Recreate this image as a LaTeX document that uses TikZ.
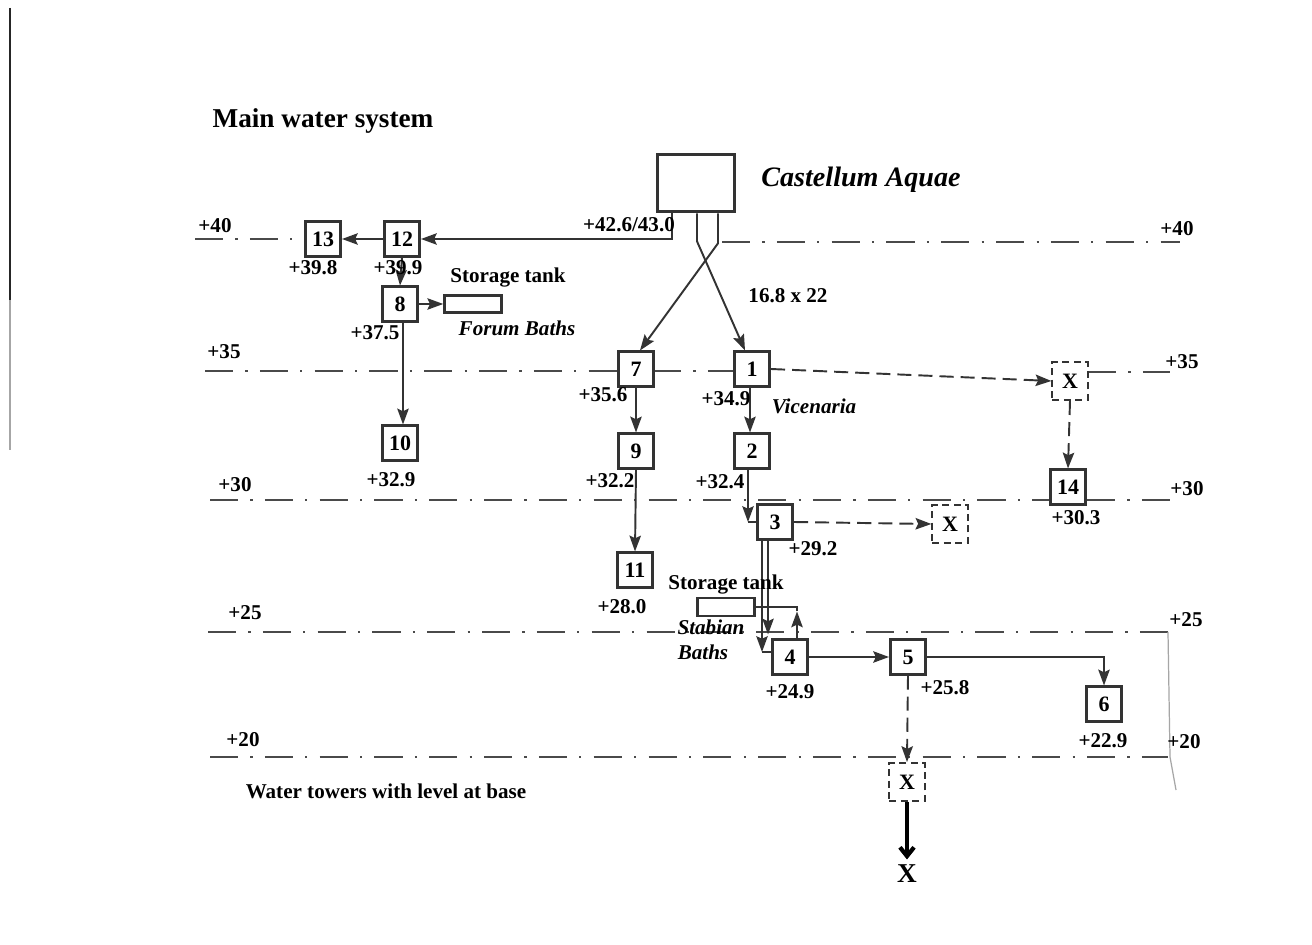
\documentclass[tikz,border=0pt]{standalone}
\usepackage{fontspec}
\setmainfont{Liberation Serif}
\usetikzlibrary{arrows.meta,calc}
\definecolor{ink}{HTML}{333333}
\definecolor{lev}{HTML}{4A4A4A}
\begin{document}
\begin{tikzpicture}[x=0.02cm,y=-0.02cm,
  numbox/.style={draw=ink, line width=1.6pt, fill=white, minimum width=20pt, minimum height=19.5pt, inner sep=0pt, font=\fontsize{12.5}{14}\selectfont\bfseries},
  xbox/.style={draw=ink, line width=1.2pt, dash pattern=on 4pt off 2.5pt, fill=white, minimum width=20pt, minimum height=21.5pt, inner sep=0pt, font=\fontsize{12.5}{14}\selectfont\bfseries},
  tankbox/.style={draw=ink, line width=1.4pt, fill=white, minimum width=32.5pt, minimum height=9.5pt, inner sep=0pt},
  castbox/.style={draw=ink, line width=2pt, fill=white, minimum width=44pt, minimum height=32.5pt, inner sep=0pt},
  lbl/.style={font=\fontsize{12}{14}\selectfont\bfseries, inner sep=0pt},
  ilbl/.style={font=\fontsize{12}{14}\selectfont\bfseries\itshape, inner sep=0pt},
  flow/.style={draw=ink, line width=1.1pt, -{Stealth[length=9pt,width=6.5pt,inset=1.5pt]}},
  plain/.style={draw=ink, line width=1.1pt},
  dflow/.style={draw=ink, line width=1.1pt, dash pattern=on 8pt off 4pt, -{Stealth[length=9pt,width=6.5pt,inset=1.5pt]}},
  level/.style={draw=lev, line width=0.8pt, dash pattern=on 16pt off 7pt on 1.2pt off 7pt}
]
\useasboundingbox (0,0) rectangle (1312,945);
\fill[white] (0,0) rectangle (1312,945);

% scan edge line
\draw[line width=1.3pt, black!85] (10,8) -- (10,300);
\draw[line width=1pt, black!35] (10,300) -- (10,450);

% level lines
\draw[level] (195,239) -- (306,239);
\draw[level] (722,242) -- (1180,242);
\draw[level] (205,371) -- (620,371);
\draw[level] (653,371) -- (733,371);
\draw[level] (1088,372) -- (1170,372);
\draw[level] (210,500) -- (1180,500);
\draw[level] (208,632) -- (1168,632);
\draw[level] (210,757) -- (1168,757);
\draw[line width=0.7pt, black!35] (1168,632) -- (1170,757) -- (1176,790);

% titles
\node[font=\fontsize{15.5}{18}\selectfont\bfseries, inner sep=0pt] (title) at (323,121) {Main water system};
\node[font=\fontsize{16}{19}\selectfont\bfseries\itshape, inner sep=0pt] (castlbl) at (861,180) {Castellum Aquae};

% nodes
\node[castbox] (ca) at (696,183) {};
\node[numbox] (n13) at (323,239) {13};
\node[numbox] (n12) at (402,239) {12};
\node[numbox] (n8) at (400,304) {8};
\node[tankbox] (tf) at (473,304) {};
\node[numbox] (n10) at (400,443) {10};
\node[numbox] (n7) at (636,369) {7};
\node[numbox] (n1) at (752,369) {1};
\node[numbox] (n9) at (636,451) {9};
\node[numbox] (n2) at (752,451) {2};
\node[numbox] (n3) at (775,522) {3};
\node[xbox] (xc) at (950,524) {X};
\node[xbox] (xa) at (1070,381) {X};
\node[numbox] (n14) at (1068,487) {14};
\node[numbox] (n11) at (635,570) {11};
\node[tankbox, minimum height=10pt] (ts) at (726,607) {};
\node[numbox] (n4) at (790,657) {4};
\node[numbox] (n5) at (908,657) {5};
\node[numbox] (n6) at (1104,704) {6};
\node[xbox] (xb) at (907,782) {X};
\node[font=\fontsize{15.5}{18}\selectfont\bfseries, inner sep=0pt] (xend) at (907,874) {X};

% connectors from castellum
\draw[flow] ($(ca.south)+(-24,0)$) |- (n12.east);
\draw[flow] ($(ca.south)+(1,0)$) -- ++(0,28) -- ($(n1.north)+(-7,0)$);
\draw[flow] ($(ca.south)+(22,0)$) -- ++(0,30) -- ($(n7.north)+(4,0)$);

% left branch
\draw[flow] (n12.west) -- (n13.east);
\draw[flow] (n12.south) -- (n8.north);
\draw[flow] (n8.east) -- (tf.west);
\draw[flow] ($(n8.south)+(3,0)$) -- ($(n10.north)+(3,0)$);

% middle branches
\draw[flow] (n7.south) -- (n9.north);
\draw[flow] (n9.south) -- (n11.north);
\draw[flow] ($(n1.south)+(-2,0)$) -- ($(n2.north)+(-2,0)$);
\coordinate (c23) at ($(n2.south)+(-4,0)$);
\draw[flow] (c23) -- (c23 |- n3.west);
\draw[plain] (c23 |- n3.west) -- (n3.west);
\draw[dflow] (n3.east) -- (xc.west);
\draw[dflow] (n1.east) -- (xa.west);
\draw[dflow] (xa.south) -- (n14.north);

% 3 to 4
\coordinate (c34a) at ($(n3.south)+(-13,0)$);
\coordinate (c34b) at ($(n3.south)+(-7,0)$);
\draw[flow] (c34a) -- (c34a |- 0,652);
\draw[plain] (c34a |- 0,652) -- (n4.west |- 0,652);
\draw[flow] (c34b) -- ($(n4.north west)+(-3,-4)$);
% storage tank Stabian
\coordinate (c4t) at ($(n4.north)+(7,0)$);
\draw[flow] (c4t) -- ++(0,-27);
\draw[plain] ($(c4t)+(0,-27)$) |- (ts.east);

% lower
\draw[flow] (n4.east) -- (n5.west);
\draw[flow] (n5.east) -| (n6.north);
\draw[dflow] (n5.south) -- (xb.north);
\draw[draw=black, line width=2.4pt, shorten >=3pt, -{Straight Barb[length=5pt,width=8pt]}] (xb.south) -- (xend.north);

% labels
\node[lbl] at (215,226) {+40};
\node[lbl] at (1177,229) {+40};
\node[lbl] at (629,225) {+42.6/43.0};
\node[lbl] at (313,268) {+39.8};
\node[lbl] at (398,268) {+39.9};
\node[lbl] at (508,278) {Storage tank};
\node[lbl] at (788,296) {16.8 x 22};
\node[lbl] at (375,333) {+37.5};
\node[ilbl] at (517,328) {Forum Baths};
\node[lbl] at (224,352) {+35};
\node[lbl] at (1182,362) {+35};
\node[lbl] at (603,395) {+35.6};
\node[lbl] at (726,399) {+34.9};
\node[ilbl] at (814,406) {Vicenaria};
\node[lbl] at (391,480) {+32.9};
\node[lbl] at (610,481) {+32.2};
\node[lbl] at (720,482) {+32.4};
\node[lbl] at (235,485) {+30};
\node[lbl] at (1187,489) {+30};
\node[lbl] at (1076,518) {+30.3};
\node[lbl] at (813,549) {+29.2};
\node[lbl] at (622,607) {+28.0};
\node[lbl] at (726,585) {Storage tank};
\node[lbl] at (245,613) {+25};
\node[lbl] at (1186,620) {+25};
\node[ilbl] at (711,627) {Stabian};
\node[ilbl] at (703,652) {Baths};
\node[lbl] at (790,692) {+24.9};
\node[lbl] at (945,688) {+25.8};
\node[lbl] at (1103,741) {+22.9};
\node[lbl] at (243,740) {+20};
\node[lbl] at (1184,742) {+20};
\node[lbl] at (386,791) {Water towers with level at base};
\end{tikzpicture}
\end{document}
